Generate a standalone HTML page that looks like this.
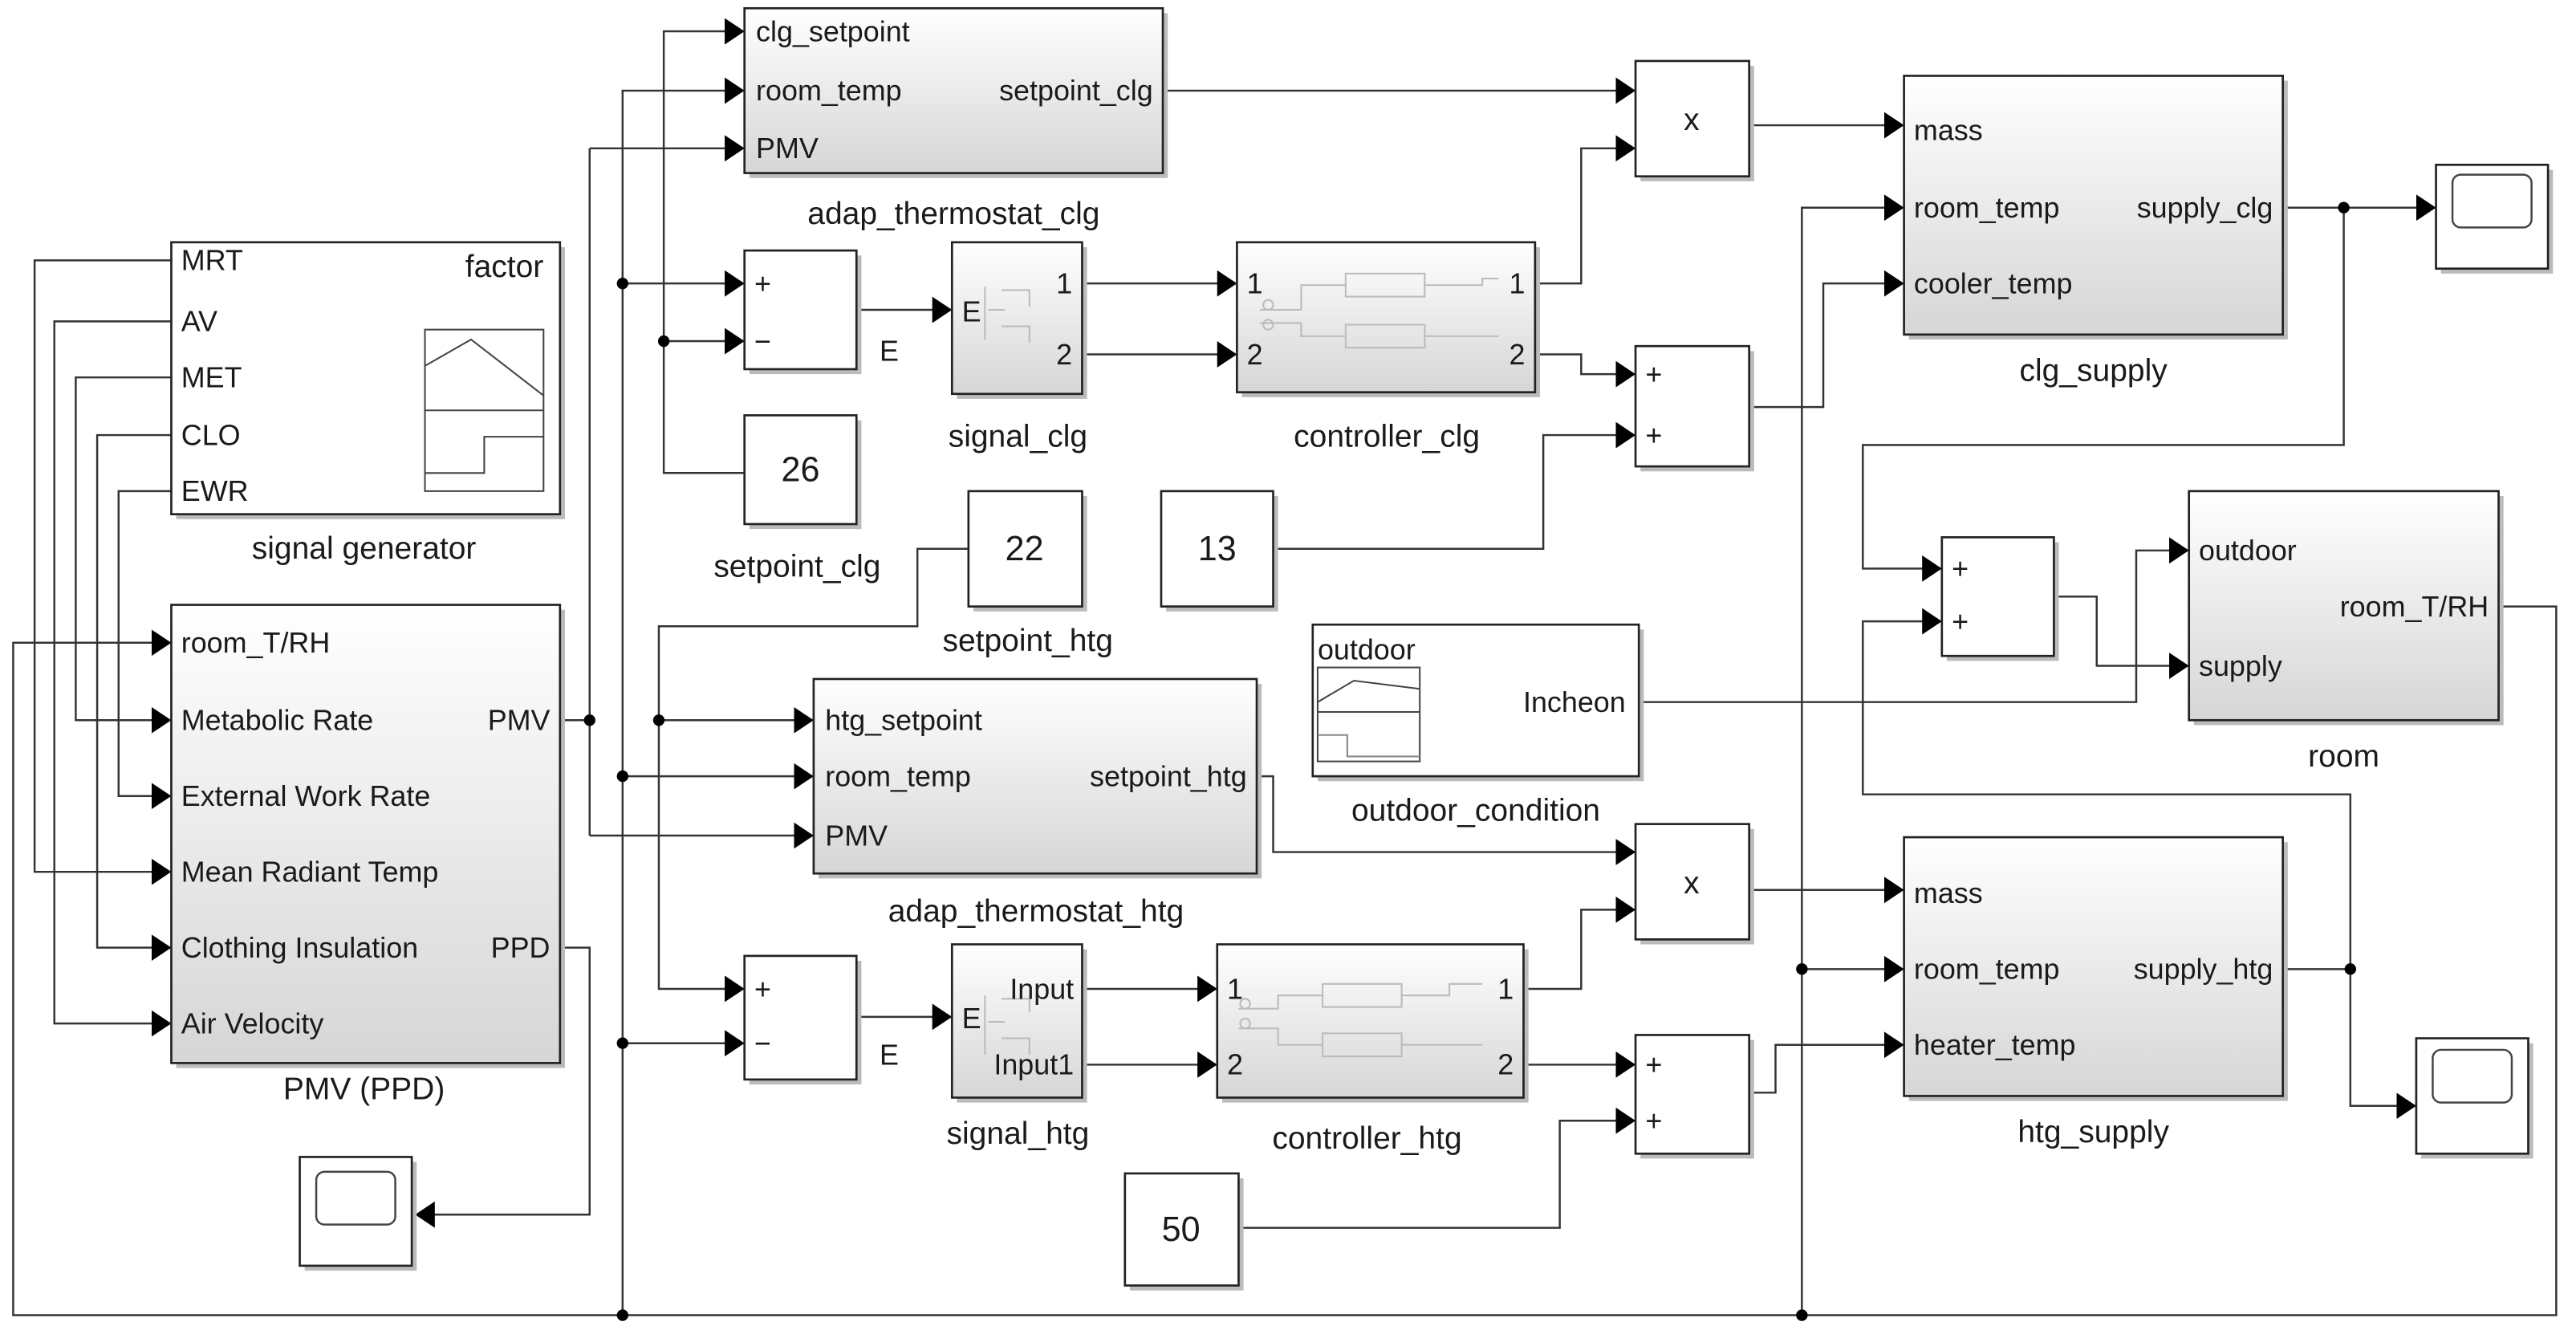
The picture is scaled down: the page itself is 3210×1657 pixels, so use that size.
<!DOCTYPE html>
<html><head><meta charset="utf-8"><style>
html,body{margin:0;padding:0;background:#fff}
svg{display:block}
text{font-family:"Liberation Sans",Arial,sans-serif;fill:#1a1a1a}
</style></head><body>
<svg width="3210" height="1657" viewBox="0 0 1564 807" preserveAspectRatio="none" xmlns="http://www.w3.org/2000/svg">
<defs>
<marker id="a" markerUnits="userSpaceOnUse" markerWidth="13" markerHeight="16" refX="12" refY="8" orient="auto"><path d="M0,0L12,8L0,16z" fill="#000"/></marker>
<linearGradient id="g" x1="0" y1="0" x2="0" y2="1"><stop offset="0" stop-color="#fff"/><stop offset="1" stop-color="#d6d6d6"/></linearGradient>
</defs>
<g fill="none" stroke="#333" stroke-width="1.2">
<path d="M104,158H21V529H104" marker-end="url(#a)"/>
<path d="M104,195H33V621H104" marker-end="url(#a)"/>
<path d="M104,229H46V437H104" marker-end="url(#a)"/>
<path d="M104,264H59V575H104" marker-end="url(#a)"/>
<path d="M104,298H72V483H104" marker-end="url(#a)"/>
<path d="M1517,368H1552V798H8V390H104" marker-end="url(#a)"/>
<path d="M340,437H358"/>
<path d="M358,90V507"/>
<path d="M358,90H452" marker-end="url(#a)"/>
<path d="M358,507H494" marker-end="url(#a)"/>
<path d="M340,575H358V737H252" marker-end="url(#a)"/>
<path d="M378,798V55H452" marker-end="url(#a)"/>
<path d="M378,172H452" marker-end="url(#a)"/>
<path d="M378,471H494" marker-end="url(#a)"/>
<path d="M378,633H452" marker-end="url(#a)"/>
<path d="M452,287H403V19H452" marker-end="url(#a)"/>
<path d="M403,207H452" marker-end="url(#a)"/>
<path d="M588,333H557V380H400V600H452" marker-end="url(#a)"/>
<path d="M400,437H494" marker-end="url(#a)"/>
<path d="M520,188H578" marker-end="url(#a)"/>
<path d="M520,617H578" marker-end="url(#a)"/>
<path d="M657,172H751" marker-end="url(#a)"/>
<path d="M657,215H751" marker-end="url(#a)"/>
<path d="M657,600H739" marker-end="url(#a)"/>
<path d="M657,646H739" marker-end="url(#a)"/>
<path d="M932,172H960V90H993" marker-end="url(#a)"/>
<path d="M932,215H960V227H993" marker-end="url(#a)"/>
<path d="M773,333H937V264H993" marker-end="url(#a)"/>
<path d="M706,55H993" marker-end="url(#a)"/>
<path d="M1062,76H1156" marker-end="url(#a)"/>
<path d="M1062,247H1107V172H1156" marker-end="url(#a)"/>
<path d="M1094,798V126H1156" marker-end="url(#a)"/>
<path d="M1094,588H1156" marker-end="url(#a)"/>
<path d="M1062,663H1078V634H1156" marker-end="url(#a)"/>
<path d="M925,600H960V552H993" marker-end="url(#a)"/>
<path d="M925,646H993" marker-end="url(#a)"/>
<path d="M752,745H947V680H993" marker-end="url(#a)"/>
<path d="M763,471H773V517H993" marker-end="url(#a)"/>
<path d="M1062,540H1156" marker-end="url(#a)"/>
<path d="M1386,126H1479" marker-end="url(#a)"/>
<path d="M1423,126V270H1131V345H1179" marker-end="url(#a)"/>
<path d="M1386,588H1427V671H1467" marker-end="url(#a)"/>
<path d="M1427,588V482H1131V377H1179" marker-end="url(#a)"/>
<path d="M1247,362H1273V404H1329" marker-end="url(#a)"/>
<path d="M995,426H1297V334H1329" marker-end="url(#a)"/>
</g>
<g fill="#000">
<circle cx="358" cy="437" r="3.5"/><circle cx="378" cy="172" r="3.5"/><circle cx="403" cy="207" r="3.5"/>
<circle cx="400" cy="437" r="3.5"/><circle cx="378" cy="471" r="3.5"/><circle cx="378" cy="633" r="3.5"/>
<circle cx="378" cy="798" r="3.5"/><circle cx="1094" cy="588" r="3.5"/><circle cx="1094" cy="798" r="3.5"/>
<circle cx="1423" cy="126" r="3.5"/><circle cx="1427" cy="588" r="3.5"/>
</g>
<g stroke="#222" stroke-width="1.3">
<g fill="#bbb" stroke="none">
<rect x="455" y="8" width="254" height="100"/><rect x="107" y="150" width="236" height="165"/><rect x="107" y="370" width="236" height="278"/>
<rect x="185" y="705" width="68" height="66"/><rect x="455" y="155" width="68" height="72"/><rect x="581" y="150" width="79" height="92"/>
<rect x="754" y="150" width="181" height="91"/><rect x="455" y="255" width="68" height="66"/><rect x="591" y="301" width="69" height="70"/>
<rect x="708" y="301" width="68" height="70"/><rect x="996" y="40" width="69" height="70"/><rect x="996" y="213" width="69" height="73"/>
<rect x="1159" y="49" width="230" height="157"/><rect x="1482" y="103" width="68" height="63"/><rect x="1332" y="301" width="188" height="139"/>
<rect x="1182" y="329" width="68" height="72"/><rect x="800" y="382" width="198" height="92"/><rect x="497" y="415" width="269" height="118"/>
<rect x="996" y="503" width="69" height="70"/><rect x="1159" y="511" width="230" height="157"/><rect x="455" y="583" width="68" height="75"/>
<rect x="581" y="576" width="79" height="93"/><rect x="742" y="576" width="186" height="93"/><rect x="996" y="631" width="69" height="72"/>
<rect x="686" y="715" width="69" height="68"/><rect x="1470" y="633" width="68" height="70"/>
</g>
<rect x="452" y="5" width="254" height="100" fill="url(#g)"/>
<rect x="104" y="147" width="236" height="165" fill="#fff"/>
<rect x="104" y="367" width="236" height="278" fill="url(#g)"/>
<rect x="182" y="702" width="68" height="66" fill="#fff"/>
<rect x="452" y="152" width="68" height="72" fill="#fff"/>
<rect x="578" y="147" width="79" height="92" fill="url(#g)"/>
<rect x="751" y="147" width="181" height="91" fill="url(#g)"/>
<rect x="452" y="252" width="68" height="66" fill="#fff"/>
<rect x="588" y="298" width="69" height="70" fill="#fff"/>
<rect x="705" y="298" width="68" height="70" fill="#fff"/>
<rect x="993" y="37" width="69" height="70" fill="#fff"/>
<rect x="993" y="210" width="69" height="73" fill="#fff"/>
<rect x="1156" y="46" width="230" height="157" fill="url(#g)"/>
<rect x="1479" y="100" width="68" height="63" fill="#fff"/>
<rect x="1329" y="298" width="188" height="139" fill="url(#g)"/>
<rect x="1179" y="326" width="68" height="72" fill="#fff"/>
<rect x="797" y="379" width="198" height="92" fill="#fff"/>
<rect x="494" y="412" width="269" height="118" fill="url(#g)"/>
<rect x="993" y="500" width="69" height="70" fill="#fff"/>
<rect x="1156" y="508" width="230" height="157" fill="url(#g)"/>
<rect x="452" y="580" width="68" height="75" fill="#fff"/>
<rect x="578" y="573" width="79" height="93" fill="url(#g)"/>
<rect x="739" y="573" width="186" height="93" fill="url(#g)"/>
<rect x="993" y="628" width="69" height="72" fill="#fff"/>
<rect x="683" y="712" width="69" height="68" fill="#fff"/>
<rect x="1467" y="630" width="68" height="70" fill="#fff"/>
</g>
<g fill="none" stroke="#444" stroke-width="1.2">
<rect x="192" y="711" width="48" height="32" rx="5"/>
<rect x="1489" y="106" width="48" height="32" rx="5"/>
<rect x="1477" y="637" width="48" height="32" rx="5"/>
</g>
<g fill="none" stroke="#444" stroke-width="1">
<rect x="258" y="200" width="72" height="98"/><path d="M258,249H330"/>
<path d="M258,222L286,206L330,240"/><path d="M258,287H294V265H330"/>
<rect x="800" y="405" width="62" height="57"/><path d="M800,432H862"/>
<path d="M800,426L822,413L862,418"/><path d="M800,446H818V459H862" stroke="#888"/>
</g>
<g fill="none" stroke="#bbb" stroke-width="1">
<rect x="817" y="166" width="48" height="14"/><rect x="817" y="197" width="48" height="14"/>
<path d="M765,188H790V173H817M765,196H790V204H817M865,173H900V169H910M865,204H910"/>
<circle cx="770" cy="185" r="3"/><circle cx="770" cy="197" r="3"/>
<rect x="803" y="597" width="48" height="14"/><rect x="803" y="627" width="48" height="14"/>
<path d="M752,612H776V604H803M752,624H776V634H803M851,604H880V597H900M851,634H900"/>
<circle cx="756" cy="609" r="3"/><circle cx="756" cy="621" r="3"/>
<path d="M598,174V206M608,176H625V186M608,198H625V208M600,188H610"/>
<path d="M598,604V640M608,606H625V614M608,630H625V640M600,620H610"/>
</g>
<g font-size="17.5">
<text x="459" y="25">clg_setpoint</text>
<text x="459" y="61">room_temp</text>
<text x="700" y="61" text-anchor="end">setpoint_clg</text>
<text x="459" y="96">PMV</text>
<text x="110" y="164">MRT</text><text x="110" y="201">AV</text><text x="110" y="235">MET</text>
<text x="110" y="270">CLO</text><text x="110" y="304">EWR</text>
<text x="330" y="168" text-anchor="end" font-size="19">factor</text>
<text x="110" y="396">room_T/RH</text><text x="110" y="443">Metabolic Rate</text>
<text x="110" y="489">External Work Rate</text><text x="110" y="535">Mean Radiant Temp</text>
<text x="110" y="581">Clothing Insulation</text><text x="110" y="627">Air Velocity</text>
<text x="334" y="443" text-anchor="end">PMV</text><text x="334" y="581" text-anchor="end">PPD</text>
<text x="458" y="178">+</text><text x="458" y="213">−</text><text x="534" y="219">E</text>
<text x="584" y="195">E</text><text x="651" y="178" text-anchor="end">1</text><text x="651" y="221" text-anchor="end">2</text>
<text x="757" y="178">1</text><text x="757" y="221">2</text>
<text x="926" y="178" text-anchor="end">1</text><text x="926" y="221" text-anchor="end">2</text>
<text x="999" y="233">+</text><text x="999" y="270">+</text>
<text x="1162" y="85">mass</text><text x="1162" y="132">room_temp</text><text x="1380" y="132" text-anchor="end">supply_clg</text>
<text x="1162" y="178">cooler_temp</text>
<text x="1335" y="340">outdoor</text><text x="1335" y="410">supply</text><text x="1511" y="374" text-anchor="end">room_T/RH</text>
<text x="1185" y="351">+</text><text x="1185" y="383">+</text>
<text x="800" y="400">outdoor</text><text x="987" y="432" text-anchor="end">Incheon</text>
<text x="501" y="443">htg_setpoint</text><text x="501" y="477">room_temp</text>
<text x="757" y="477" text-anchor="end">setpoint_htg</text><text x="501" y="513">PMV</text>
<text x="1162" y="548">mass</text><text x="1162" y="594">room_temp</text><text x="1380" y="594" text-anchor="end">supply_htg</text>
<text x="1162" y="640">heater_temp</text>
<text x="458" y="606">+</text><text x="458" y="639">−</text><text x="534" y="646">E</text>
<text x="584" y="624">E</text><text x="652" y="606" text-anchor="end">Input</text><text x="652" y="652" text-anchor="end">Input1</text>
<text x="745" y="606">1</text><text x="745" y="652">2</text>
<text x="919" y="606" text-anchor="end">1</text><text x="919" y="652" text-anchor="end">2</text>
<text x="999" y="652">+</text><text x="999" y="686">+</text>
</g>
<g font-size="19" text-anchor="middle">
<text x="1027" y="79">x</text><text x="1027" y="542">x</text>
<text x="486" y="292" font-size="21">26</text><text x="622" y="340" font-size="21">22</text>
<text x="739" y="340" font-size="21">13</text><text x="717" y="753" font-size="21">50</text>
<text x="579" y="136">adap_thermostat_clg</text>
<text x="221" y="339">signal generator</text>
<text x="221" y="667">PMV (PPD)</text>
<text x="618" y="271">signal_clg</text>
<text x="842" y="271">controller_clg</text>
<text x="484" y="350">setpoint_clg</text>
<text x="624" y="395">setpoint_htg</text>
<text x="1271" y="231">clg_supply</text>
<text x="1423" y="465">room</text>
<text x="896" y="498">outdoor_condition</text>
<text x="629" y="559">adap_thermostat_htg</text>
<text x="618" y="694">signal_htg</text>
<text x="830" y="697">controller_htg</text>
<text x="1271" y="693">htg_supply</text>
</g>
</svg>
</body></html>
